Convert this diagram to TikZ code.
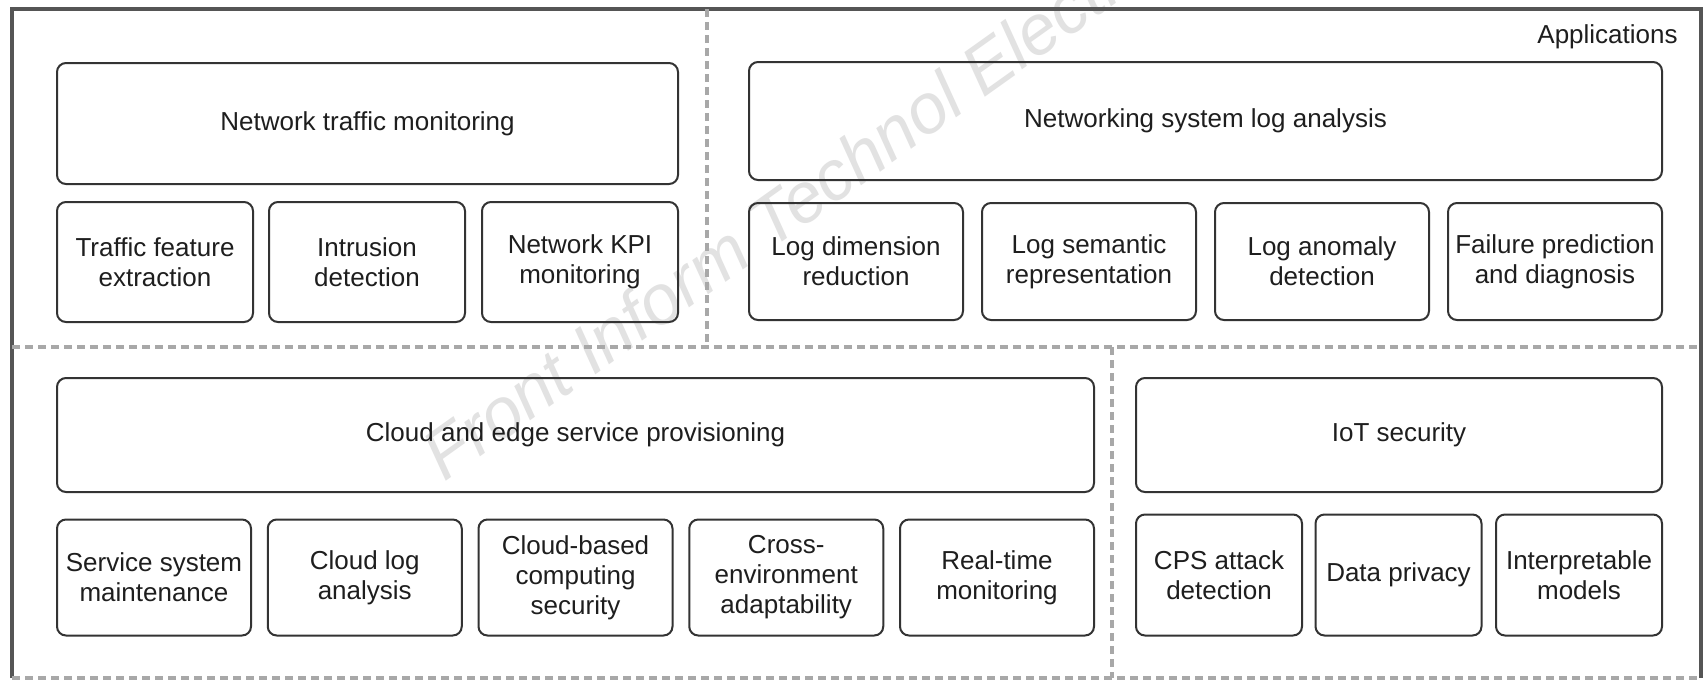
\documentclass[tikz,border=0pt]{standalone}
\usepackage{fontspec}
\setmainfont{Liberation Sans}
\definecolor{boxline}{HTML}{333333}
\definecolor{frameline}{HTML}{555555}
\definecolor{sepline}{HTML}{A8A8A8}
\definecolor{txt}{HTML}{1E1E1E}
\definecolor{wmark}{HTML}{E2E2E2}
\begin{document}
\begin{tikzpicture}[x=0.5pt,y=-0.5pt,
  box/.style={draw=boxline, line width=1pt, rounded corners=4.5pt, align=center,
    inner sep=0pt, outer sep=0pt, text=txt, font=\fontsize{13}{15}\selectfont},
  sz/.style 2 args={minimum width={(#1)*0.5pt}, minimum height={(#2)*0.5pt}},
  frame/.style={draw=frameline, line width=1.7pt},
  sep/.style={draw=sepline, line width=1.6pt, dash pattern=on 4pt off 2.5pt},
  watermark/.style={text=wmark, font=\fontsize{35}{40}\selectfont\itshape, inner sep=0pt},
  label/.style={text=txt, font=\fontsize{13}{15}\selectfont, inner sep=0pt}]

% canvas
\fill[white] (0,0) rectangle (1708,681);

% watermark
\begin{scope}
  \clip (0,0) rectangle (1708,681);
  \node[watermark, rotate=35.5, anchor=base west] (wm) at (444,483) {Front Inform Technol Electron Eng};
\end{scope}

% outer frame and section separators
\coordinate (bl) at (12,678);
\coordinate (tl) at (12,9);
\coordinate (tr) at (1701,9);
\coordinate (br) at (1701,678);
\coordinate (ml) at (12,347);
\coordinate (mr) at (1701,347);
\coordinate (vt) at (707,9);
\coordinate (vm) at (707,347);
\coordinate (wm1) at (1112,347);
\coordinate (wb) at (1112,678);
\draw[frame] (bl) -- (tl) -- (tr) -- (br);
\draw[sep] (bl) -- (br);
\draw[sep] (ml) -- (mr);
\draw[sep] (vt) -- (vm);
\draw[sep] (wm1) -- (wb);

\node[label, anchor=base east] (apps) at (1678,43) {Applications};

% network traffic monitoring
\node[box, sz={621}{121}] (ntm) at (367.5,123.5) {Network traffic monitoring};
\node[box, sz={196}{120}] (tfe) at (155,262) {Traffic feature\\extraction};
\node[box, sz={196}{120}] (ids) at (367,262) {Intrusion\\detection};
\node[box, sz={196}{120}] (kpi) at (580,262) {Network KPI\\monitoring};

% networking system log analysis
\node[box, sz={913}{118}] (nsla) at (1205.5,121) {Networking system log analysis};
\node[box, sz={214}{117}] (ldr) at (856,261.5) {Log dimension\\reduction};
\node[box, sz={214}{117}] (lsr) at (1089,261.5) {Log semantic\\representation};
\node[box, sz={214}{117}] (lad) at (1322,261.5) {Log anomaly\\detection};
\node[box, sz={214}{117}] (fpd) at (1555,261.5) {Failure prediction\\and diagnosis};

% cloud and edge service provisioning
\node[box, sz={1037}{114}] (ces) at (575.5,435) {Cloud and edge service provisioning};
\node[box, sz={194}{116}] (ssm) at (154,577.5) {Service system\\maintenance};
\node[box, sz={194}{116}] (cla) at (364.75,577.5) {Cloud log\\analysis};
\node[box, sz={194}{116}] (cbs) at (575.5,577.5) {Cloud-based\\computing\\security};
\node[box, sz={194}{116}] (cea) at (786.25,577.5) {Cross-\\environment\\adaptability};
\node[box, sz={194}{116}] (rtm) at (997,577.5) {Real-time\\monitoring};

% IoT security
\node[box, sz={526}{114}] (iot) at (1399,435) {IoT security};
\node[box, sz={166}{121}] (cps) at (1219,575) {CPS attack\\detection};
\node[box, sz={166}{121}] (dpr) at (1398.5,575) {Data privacy};
\node[box, sz={166}{121}] (ipm) at (1579,575) {Interpretable\\models};
\end{tikzpicture}
\end{document}
